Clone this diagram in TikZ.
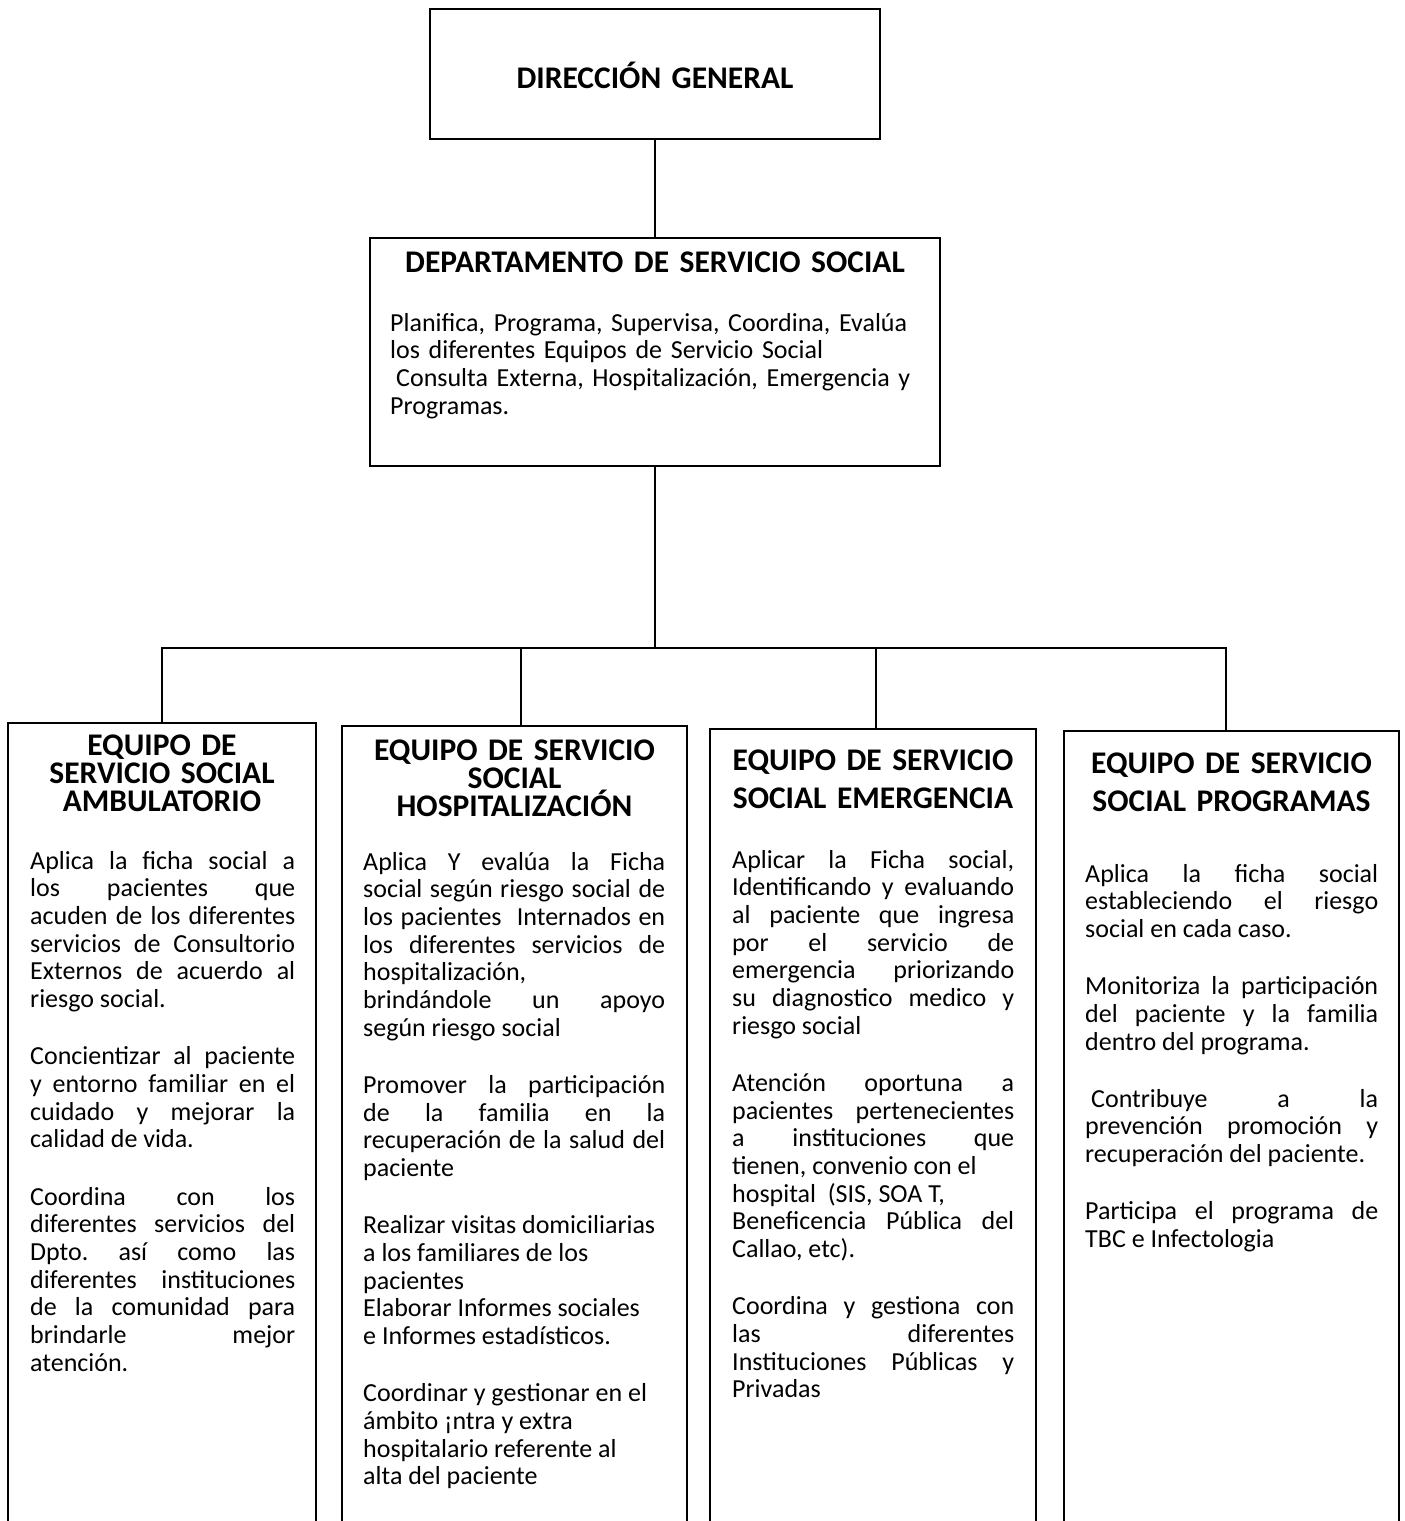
\documentclass[tikz,border=0pt]{standalone}
\usepackage{fontspec}
\setmainfont{Carlito}
\usetikzlibrary{positioning}

\newcommand{\pgap}{\par\vspace{29.5pt}}
\frenchspacing

\begin{document}
\begin{tikzpicture}[x=1pt,y=-1pt,
  box/.style={draw,line width=1.6pt,inner sep=0pt},
  wire/.style={line width=1.6pt},
  headtxt/.style={font=\bfseries\fontsize{31.5}{28}\selectfont,align=center,inner sep=0pt,anchor=base},
  headwide/.style={headtxt,font=\bfseries\fontsize{31.5}{38}\selectfont},
  bodytxt/.style={font=\fontsize{26}{27.7}\selectfont,align=justify,inner sep=0pt,anchor=base west}]
  \useasboundingbox (0,0) rectangle (1405,1521);
  \clip (0,0) rectangle (1405,1521);

  % direccion y departamento
  \node[box,minimum width=450pt,minimum height=130pt,anchor=north] (dg) at (655,8) {};
  \node[headtxt,text width=440pt] (dgT) at (655,88) {DIRECCIÓN GENERAL};
  \node[box,minimum width=570pt,minimum height=228pt,anchor=north] (dep) at (655,237) {};
  \node[headtxt,text width=560pt] (depT) at (655,272) {DEPARTAMENTO DE SERVICIO SOCIAL};
  \node[bodytxt,align=left,text width=540pt] (depB) at (390,331)
    {Planifica, Programa, Supervisa, Coordina, Evalúa\\
     los diferentes Equipos de Servicio Social\\
     \hspace*{6pt}Consulta Externa, Hospitalización, Emergencia y\\
     Programas.};

  % equipos
  \node[box,minimum width=308pt,minimum height=850pt,anchor=north] (amb) at (162,722) {};
  \node[box,minimum width=345pt,minimum height=850pt,anchor=north] (hosp) at (514.5,725) {};
  \node[box,minimum width=326pt,minimum height=850pt,anchor=north] (emer) at (873,728) {};
  \node[box,minimum width=335pt,minimum height=850pt,anchor=north] (prog) at (1231.5,730) {};

  \node[headtxt,text width=290pt] (ambT) at (162,755) {EQUIPO DE\\ SERVICIO SOCIAL\\ AMBULATORIO};
  \node[headtxt,text width=330pt] (hospT) at (514.5,760) {EQUIPO DE SERVICIO\\ SOCIAL\\ HOSPITALIZACIÓN};
  \node[headwide,text width=310pt] (emerT) at (873,770) {EQUIPO DE SERVICIO\\ SOCIAL EMERGENCIA};
  \node[headwide,text width=320pt] (progT) at (1231.5,773) {EQUIPO DE SERVICIO\\ SOCIAL PROGRAMAS};

  \node[bodytxt,text width=265pt] (ambB) at (30,869)
    {Aplica la ficha social a\linebreak los pacientes que\linebreak acuden de los diferentes\linebreak
     servicios de Consultorio\linebreak Externos de acuerdo al\linebreak riesgo social.\pgap
     Concientizar al paciente\linebreak y entorno familiar en el\linebreak cuidado y mejorar la\linebreak
     calidad de vida.\pgap
     Coordina con los\linebreak diferentes servicios del\linebreak Dpto. así como las\linebreak
     diferentes instituciones\linebreak de la comunidad para\linebreak brindarle mejor\linebreak atención.};
  \node[bodytxt,text width=302pt] (hospB) at (363,870)
    {Aplica Y evalúa la Ficha\linebreak social según riesgo social de\linebreak
     los pacientes\ \ Internados en\linebreak los diferentes servicios de\linebreak
     hospitalización,\linebreak brindándole un apoyo\linebreak según riesgo social\pgap
     Promover la participación\linebreak de la familia en la\linebreak
     recuperación de la salud del\linebreak paciente\pgap
     Realizar visitas domiciliarias\\ a los familiares de los\\ pacientes\\
     Elaborar Informes sociales\\ e Informes estadísticos.\pgap
     Coordinar y gestionar en el\\ ámbito ¡ntra y extra\\ hospitalario referente al\\ alta del paciente};
  \node[bodytxt,text width=282pt] (emerB) at (732,868)
    {Aplicar la Ficha social,\linebreak Identificando y evaluando\linebreak al paciente que ingresa\linebreak
     por el servicio de\linebreak emergencia priorizando\linebreak su diagnostico medico y\linebreak
     riesgo social\pgap
     Atención oportuna a\linebreak pacientes pertenecientes\linebreak a instituciones que\linebreak
     tienen, convenio con el\\ hospital\ \ (SIS, SOA T,\\ Beneficencia Pública del\linebreak
     Callao, etc).\pgap
     Coordina y gestiona con\linebreak las diferentes\linebreak Instituciones Públicas y\linebreak Privadas};
  \node[bodytxt,text width=293pt] (progB) at (1085,882)
    {Aplica la ficha social\linebreak estableciendo el riesgo\linebreak social en cada caso.\pgap
     Monitoriza la participación\linebreak del paciente y la familia\linebreak dentro del programa.\pgap
     \hspace*{6pt}Contribuye a la\linebreak prevención promoción y\linebreak recuperación del paciente.\pgap
     Participa el programa de\linebreak TBC e Infectologia};

  % conectores
  \coordinate (bar) at (655,648);
  \draw[wire] (dg.south) -- (dep.north);
  \draw[wire] (dep.south) -- (bar);
  \draw[wire] (amb.north) |- (bar) -| ([xshift=-5.5pt]prog.north);
  \draw[wire] ([xshift=6.5pt]hosp.north) -- ([xshift=6.5pt]hosp.north |- bar);
  \draw[wire] ([xshift=3pt]emer.north) -- ([xshift=3pt]emer.north |- bar);
\end{tikzpicture}
\end{document}
